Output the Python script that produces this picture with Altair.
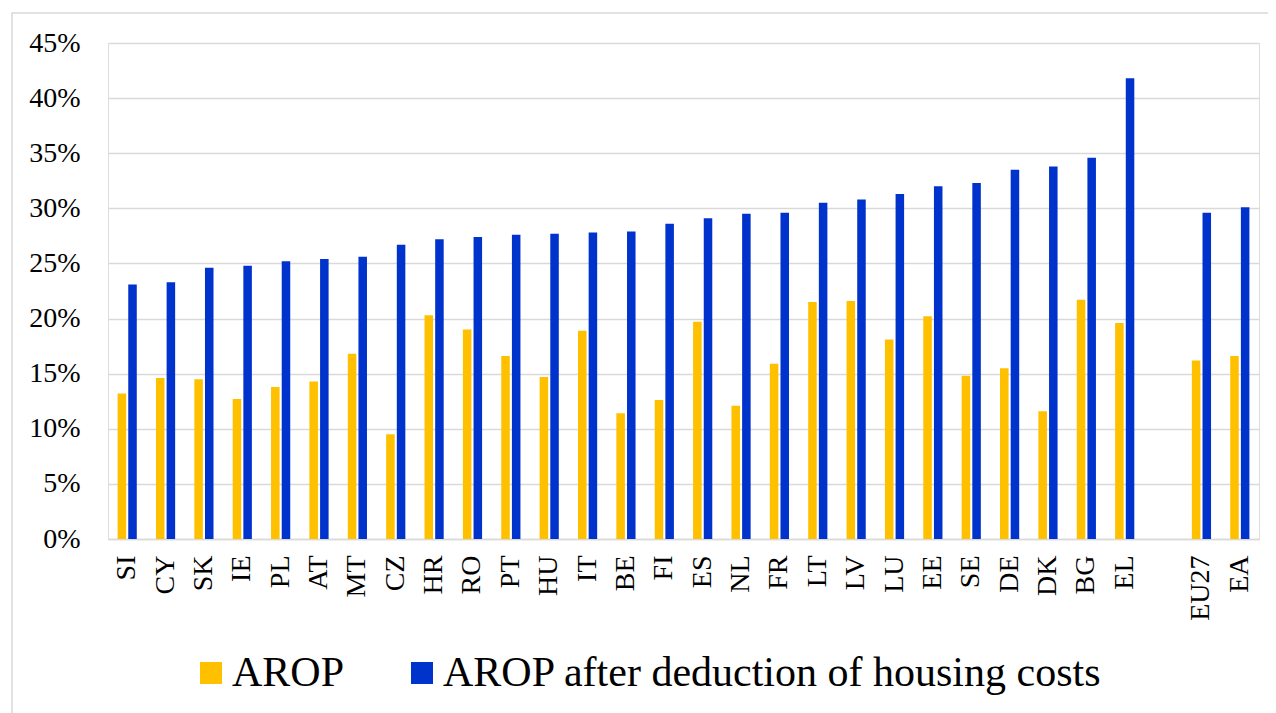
import altair as alt
import pandas as pd

countries = ["SI", "CY", "SK", "IE", "PL", "AT", "MT", "CZ", "HR", "RO", "PT", "HU", "IT",
             "BE", "FI", "ES", "NL", "FR", "LT", "LV", "LU", "EE", "SE", "DE", "DK", "BG",
             "EL", "EU27", "EA"]
arop = [13.2, 14.6, 14.5, 12.7, 13.8, 14.3, 16.8, 9.5, 20.3, 19.0, 16.6, 14.7, 18.9,
        11.4, 12.6, 19.7, 12.1, 15.9, 21.5, 21.6, 18.1, 20.2, 14.8, 15.5, 11.6, 21.7,
        19.6, 16.2, 16.6]
arop_hc = [23.1, 23.3, 24.6, 24.8, 25.2, 25.4, 25.6, 26.7, 27.2, 27.4, 27.6, 27.7, 27.8,
           27.9, 28.6, 29.1, 29.5, 29.6, 30.5, 30.8, 31.3, 32.0, 32.3, 33.5, 33.8, 34.6,
           41.8, 29.6, 30.1]
series_names = ["AROP", "AROP after deduction of housing costs"]
colors = ["#FFC000", "#0033CC"]
y_ticks = [0, 5, 10, 15, 20, 25, 30, 35, 40, 45]

# category order with an empty slot between EL and the aggregates
x_domain = countries[:27] + [" "] + countries[27:]

rows = []
for c, a, b in zip(countries, arop, arop_hc):
    rows.append({"country": c, "series": series_names[0], "value": a})
    rows.append({"country": c, "series": series_names[1], "value": b})
df = pd.DataFrame(rows)

font = "Liberation Serif"

bars = alt.Chart(df).mark_bar().encode(
    x=alt.X("country:N", sort=None,
            scale=alt.Scale(domain=x_domain, paddingInner=0.5, paddingOuter=0.25),
            axis=alt.Axis(title=None, labelAngle=-90, labelFontSize=28, labelFont=font,
                          labelColor="#000000", labelPadding=16, ticks=False,
                          domainColor="#d9d9d9", domainWidth=1.5, grid=False)),
    xOffset=alt.XOffset("series:N", sort=series_names,
                        scale=alt.Scale(domain=series_names, paddingInner=0.2, paddingOuter=0)),
    y=alt.Y("value:Q", scale=alt.Scale(domain=[0, 45], nice=False),
            axis=alt.Axis(title=None, values=y_ticks, labelExpr="datum.value + '%'",
                          labelFontSize=28, labelFont=font, labelColor="#000000",
                          labelPadding=28, ticks=False, domain=False,
                          grid=True, gridColor="#d9d9d9", gridWidth=1.5)),
    color=alt.Color("series:N", sort=series_names,
                    scale=alt.Scale(domain=series_names, range=colors),
                    legend=alt.Legend(title=None, orient="none", direction="horizontal",
                                      legendX=82, legendY=609,
                                      symbolType="square", symbolSize=484,
                                      symbolStrokeWidth=0, labelFontSize=42,
                                      labelFont=font, labelColor="#000000",
                                      labelOffset=0, columnPadding=56,
                                      labelLimit=900)),
)

# light grey chart-area frame (decoration only)
frame = alt.Chart(pd.DataFrame({"k": [0]})).mark_rect(
    fill=None, stroke="#d9d9d9", strokeWidth=1.5, clip=False
).encode(
    x=alt.value(-96), x2=alt.value(1220), y=alt.value(-30), y2=alt.value(720)
)

chart = alt.layer(frame, bars).properties(
    width=1151,
    height=496,
    autosize=alt.AutoSizeParams(type="none"),
    padding={"left": 100, "top": 35, "right": 9, "bottom": 180},
).configure_view(stroke=None).configure(background="#ffffff")

chart.save("out.html", embed_options={"renderer": "svg", "actions": False})
